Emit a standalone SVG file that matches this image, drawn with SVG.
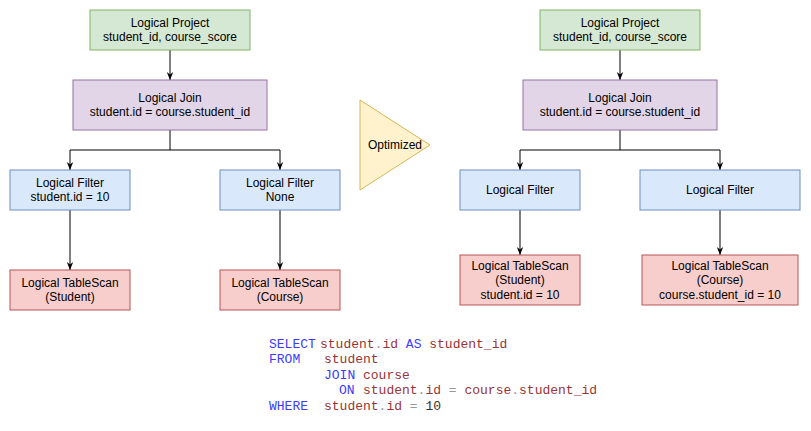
<svg xmlns="http://www.w3.org/2000/svg" width="811" height="431" viewBox="0 0 811 431">
<defs>
<style>
.n text{font-family:"Liberation Sans",Arial,sans-serif;font-size:12px;fill:#000;text-anchor:middle}
.g{fill:#d5e8d4;stroke:#82b366}
.p{fill:#e1d5e7;stroke:#9673a6}
.b{fill:#dae8fc;stroke:#6c8ebf}
.r{fill:#f8cecc;stroke:#b85450}
.y{fill:#fff2cc;stroke:#d6b656}
.c path{fill:none;stroke:#000;stroke-width:1}
.code{font-family:"Liberation Mono","Courier New",monospace;font-size:13px}
.k{fill:#3c3cff}
.i{fill:#993333}
.d{fill:#999999}
.v{fill:#333333}
</style>
<marker id="ah" viewBox="0 0 10 10" refX="10" refY="5" markerWidth="8" markerHeight="8" markerUnits="userSpaceOnUse" orient="auto">
<path d="M0,1 L10,5 L0,9 L3,5 z" fill="#000"/>
</marker>
</defs>
<rect width="811" height="431" fill="#fff"/>

<g id="connectors" class="c">
<path d="M170,50 V80" marker-end="url(#ah)"/>
<path d="M170,130 V150 H70 V170" marker-end="url(#ah)"/>
<path d="M170,150 H280 V170" marker-end="url(#ah)"/>
<path d="M70,210 V270" marker-end="url(#ah)"/>
<path d="M280,210 V270" marker-end="url(#ah)"/>
<path d="M620,50 V80" marker-end="url(#ah)"/>
<path d="M620,130 V150 H520 V170" marker-end="url(#ah)"/>
<path d="M620,150 H720 V170" marker-end="url(#ah)"/>
<path d="M520,210 V255" marker-end="url(#ah)"/>
<path d="M720,210 V255" marker-end="url(#ah)"/>
</g>

<g id="l-project" class="n"><rect class="g" x="90" y="10" width="160" height="40"/><text x="170" y="27">Logical Project</text><text x="170" y="41">student_id, course_score</text></g>
<g id="l-join" class="n"><rect class="p" x="73" y="80" width="194" height="50"/><text x="170" y="102">Logical Join</text><text x="170" y="116">student.id = course.student_id</text></g>
<g id="l-filter1" class="n"><rect class="b" x="10" y="170" width="120" height="40"/><text x="70" y="187">Logical Filter</text><text x="70" y="201">student.id = 10</text></g>
<g id="l-filter2" class="n"><rect class="b" x="220" y="170" width="120" height="40"/><text x="280" y="187">Logical Filter</text><text x="280" y="201">None</text></g>
<g id="l-scan1" class="n"><rect class="r" x="10" y="270" width="120" height="40"/><text x="70" y="287">Logical TableScan</text><text x="70" y="301">(Student)</text></g>
<g id="l-scan2" class="n"><rect class="r" x="220" y="270" width="120" height="40"/><text x="280" y="287">Logical TableScan</text><text x="280" y="301">(Course)</text></g>

<g id="optimized" class="n"><path class="y" d="M360,100 L430,145 L360,190 Z"/><text x="395" y="149">Optimized</text></g>

<g id="r-project" class="n"><rect class="g" x="540" y="10" width="160" height="40"/><text x="620" y="27">Logical Project</text><text x="620" y="41">student_id, course_score</text></g>
<g id="r-join" class="n"><rect class="p" x="523" y="80" width="194" height="50"/><text x="620" y="102">Logical Join</text><text x="620" y="116">student.id = course.student_id</text></g>
<g id="r-filter1" class="n"><rect class="b" x="460" y="170" width="120" height="40"/><text x="520" y="194">Logical Filter</text></g>
<g id="r-filter2" class="n"><rect class="b" x="640" y="170" width="160" height="40"/><text x="720" y="194">Logical Filter</text></g>
<g id="r-scan1" class="n"><rect class="r" x="460" y="255" width="120" height="50"/><text x="520" y="270">Logical TableScan</text><text x="520" y="284">(Student)</text><text x="520" y="299">student.id = 10</text></g>
<g id="r-scan2" class="n"><rect class="r" x="642" y="255" width="156" height="50"/><text x="720" y="270">Logical TableScan</text><text x="720" y="284">(Course)</text><text x="720" y="299">course.student_id = 10</text></g>

<g id="sql" class="code" xml:space="preserve">
<text x="269" y="348" class="k">SELECT</text>
<text x="320" y="348"><tspan class="i">student</tspan><tspan class="d">.</tspan><tspan class="i">id</tspan><tspan class="k"> AS </tspan><tspan class="i">student_id</tspan></text>
<text x="269" y="363" class="k">FROM</text>
<text x="324" y="363" class="i">student</text>
<text x="324" y="379" class="k">JOIN</text>
<text x="363" y="379" class="i">course</text>
<text x="339" y="394" class="k">ON</text>
<text x="363" y="394"><tspan class="i">student</tspan><tspan class="d">.</tspan><tspan class="i">id</tspan><tspan class="d"> = </tspan><tspan class="i">course</tspan><tspan class="d">.</tspan><tspan class="i">student_id</tspan></text>
<text x="269" y="410" class="k">WHERE</text>
<text x="324" y="410"><tspan class="i">student</tspan><tspan class="d">.</tspan><tspan class="i">id</tspan><tspan class="d"> = </tspan><tspan class="v">10</tspan></text>
</g>
</svg>
